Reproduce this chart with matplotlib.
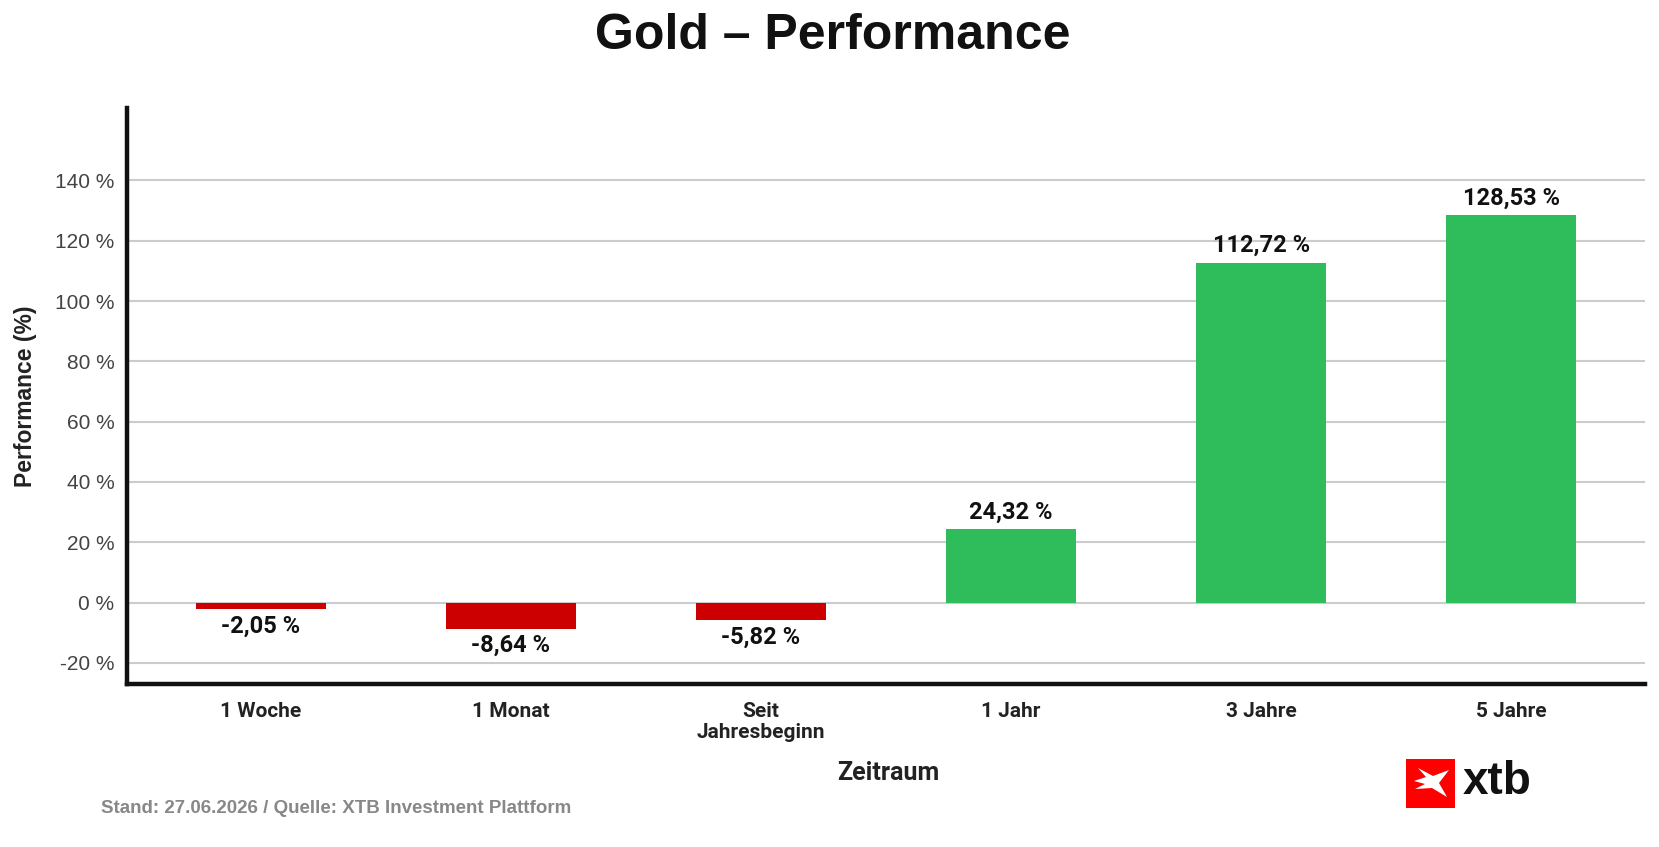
import matplotlib
matplotlib.use("Agg")
import matplotlib.pyplot as plt
from matplotlib.patches import Rectangle, Polygon
from matplotlib import font_manager

# data
zeitraum = ["1 Woche", "1 Monat", "Seit\nJahresbeginn", "1 Jahr", "3 Jahre", "5 Jahre"]
performance = [-2.05, -8.64, -5.82, 24.32, 112.72, 128.53]
yticks = [-20, 0, 20, 40, 60, 80, 100, 120, 140]

names = {f.name for f in font_manager.fontManager.ttflist}
narrow = "Liberation Sans Narrow" if "Liberation Sans Narrow" in names else "Roboto"
plt.rcParams["font.family"] = ["Liberation Sans", "DejaVu Sans"]

fig = plt.figure(figsize=(16.59, 8.47), dpi=100)
ax = fig.add_axes([0.0766, 0.1924, 0.915, 0.6801])

colors = ["#cc0000" if v < 0 else "#2fbd5b" for v in performance]
x = list(range(len(zeitraum)))
ax.bar(x, performance, width=0.52, color=colors, zorder=3)

for xi, v in zip(x, performance):
    lab = f"{v:.2f} %".replace(".", ",")
    if v >= 0:
        ax.annotate(lab, (xi, v), xytext=(0, 4), textcoords="offset points",
                    ha="center", va="bottom", fontsize=17, fontweight="bold",
                    family=narrow, color="#111111")
    else:
        ax.annotate(lab, (xi, v), xytext=(0, -4), textcoords="offset points",
                    ha="center", va="top", fontsize=17, fontweight="bold",
                    family=narrow, color="#111111")

ax.set_xlim(-0.535, 5.535)
ax.set_ylim(-27, 164)
ax.set_yticks(yticks)
ax.set_yticklabels([f"{t} %" for t in yticks], fontsize=15, color="#444444")
ax.set_xticks(x)
ax.set_xticklabels(zeitraum, fontsize=15, fontweight="bold", family=narrow,
                   color="#222222", linespacing=1.15)
ax.tick_params(axis="x", length=0, pad=13)
ax.tick_params(axis="y", length=0, pad=9)
ax.grid(axis="y", color="#cccccc", linewidth=1.5, zorder=0)

for s in ["top", "right"]:
    ax.spines[s].set_visible(False)
for s in ["left", "bottom"]:
    ax.spines[s].set_linewidth(3.2)
    ax.spines[s].set_color("#111111")
    ax.spines[s].set_zorder(4)

ax.set_ylabel("Performance (%)", fontsize=16.5, fontweight="bold", color="#222222", labelpad=13)
fig.text(0.5355, 0.087, "Zeitraum", ha="center", va="center", fontsize=18,
         fontweight="bold", family=narrow, color="#222222")

fig.text(0.502, 0.958, "Gold – Performance", ha="center", va="center",
         fontsize=36, fontweight="bold", color="#111111")
fig.text(0.0607, 0.045, "Stand: 27.06.2026 / Quelle: XTB Investment Plattform",
         ha="left", va="center", fontsize=13.5, fontweight="bold", color="#888888")

# xtb logo
W, H = 1659, 847
x0, y0, sz = 1406 / W, 1 - 808 / H, 49
fig.patches.append(Rectangle((x0, y0), sz / W, sz / H, transform=fig.transFigure,
                             facecolor="#ff0000", edgecolor="none"))
pts = [(8, 22), (20, 18), (12, 9), (27, 17), (43, 11), (33, 24), (41, 38),
       (26, 29), (9, 30), (19, 25)]
fig.patches.append(Polygon([(x0 + px / W, y0 + (sz - py) / H) for px, py in pts],
                           closed=True, transform=fig.transFigure,
                           facecolor="white", edgecolor="none"))
fig.text(1463 / W, 1 - 782 / H, "xtb", ha="left", va="center", fontsize=33,
         fontweight="bold", color="#111111")

fig.savefig("out.png", dpi=100)
